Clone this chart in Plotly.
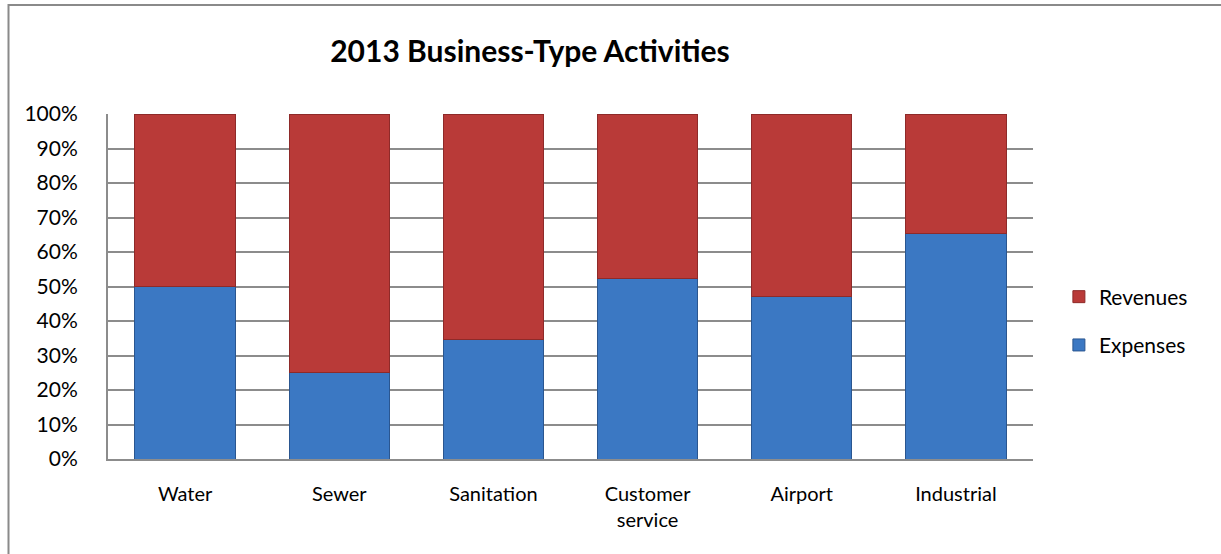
import plotly.graph_objects as go

# Share of each activity's total, in percent
categories = ["Water", "Sewer", "Sanitation", "Customer<br>service", "Airport", "Industrial"]
expenses = [50.0, 25.0, 34.5, 52.2, 47.0, 65.4]
revenues = [50.0, 75.0, 65.5, 47.8, 53.0, 34.6]
y_ticks = [0, 10, 20, 30, 40, 50, 60, 70, 80, 90, 100]
y_tick_labels = [f"{v}%" for v in y_ticks]

FONT = "Lato, 'Open Sans', sans-serif"
GRID = "#8c8c8c"

fig = go.Figure()
fig.add_trace(go.Bar(
    name="Expenses", x=categories, y=expenses,
    marker=dict(color="#3b78c3", line=dict(color="#2a5690", width=1)),
    legendgroup="exp", legendrank=2,
))
fig.add_trace(go.Bar(
    name="Revenues", x=categories, y=revenues,
    marker=dict(color="#b93a38", line=dict(color="#8e2a29", width=1)),
    legendgroup="rev", legendrank=1,
))

fig.update_layout(
    width=1221, height=554,
    margin=dict(l=108, r=188, t=114, b=95),
    paper_bgcolor="white", plot_bgcolor="white",
    barmode="stack", bargap=0.35,
    font=dict(family=FONT, size=21, color="#000000"),
    title=dict(
        text="<b>2013 Business-Type Activities</b>",
        x=530 / 1221, xanchor="center",
        y=1 - 51 / 554, yanchor="middle", yref="container",
        font=dict(family=FONT, size=30, color="#000000"),
    ),
    legend=dict(
        x=1.028, xanchor="left", y=0.40, yanchor="middle",
        traceorder="grouped", tracegroupgap=18,
        font=dict(family=FONT, size=21),
        itemwidth=30,
    ),
    showlegend=True,
)
fig.update_xaxes(
    showgrid=False, showline=True, linecolor=GRID, linewidth=2,
    ticks="", ticklabelstandoff=16,
    tickfont=dict(family=FONT, size=20),
)
fig.update_yaxes(
    range=[0, 100], tickvals=y_ticks, ticktext=y_tick_labels,
    showgrid=True, gridcolor=GRID, gridwidth=2,
    showline=True, linecolor=GRID, linewidth=2,
    ticks="", ticklabelstandoff=24, zeroline=False,
    tickfont=dict(family=FONT, size=21),
)

# Chart border
fig.add_shape(
    type="rect", xref="paper", yref="paper",
    x0=(8.5 - 108) / 925, x1=1.25, y0=-0.4, y1=(459 - 5) / 345,
    line=dict(color="#8a8a8a", width=2), fillcolor="rgba(0,0,0,0)",
    layer="below",
)

fig.write_html("out.html")
